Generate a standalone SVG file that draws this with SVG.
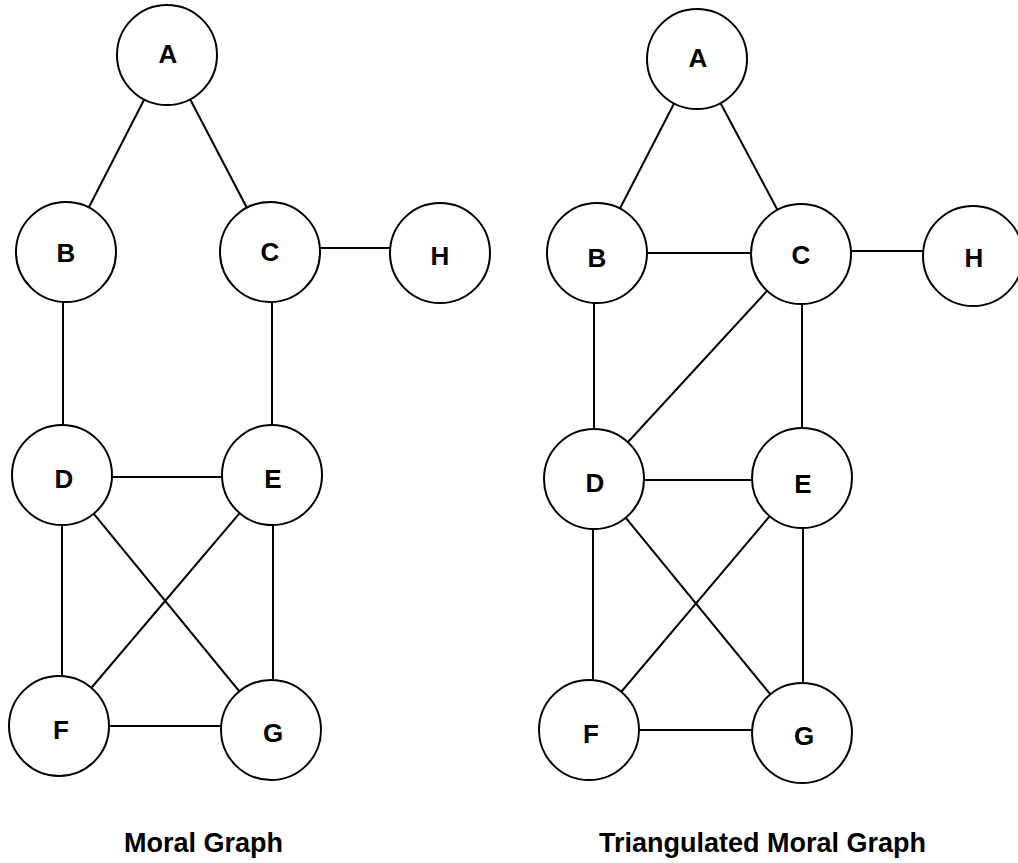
<svg xmlns="http://www.w3.org/2000/svg" width="1018" height="863" viewBox="0 0 1018 863">
  <style>
    .edge { stroke: #000; stroke-width: 2; fill: none; }
    .node circle { fill: #fff; stroke: #000; stroke-width: 2; }
    .node text { font-family: "Liberation Sans", Arial, sans-serif; font-weight: bold; font-size: 26px; text-anchor: middle; fill: #000; }
    .caption { font-family: "Liberation Sans", Arial, sans-serif; font-weight: bold; font-size: 27px; fill: #000; }
  </style>
  <rect width="1018" height="863" fill="#fff"/>

  <!-- Left: moral graph edges -->
  <g id="moral-edges">
    <line class="edge" x1="167" y1="55" x2="66" y2="252"/>
    <line class="edge" x1="167" y1="55" x2="270" y2="252"/>
    <line class="edge" x1="270" y1="248" x2="440" y2="248"/>
    <line class="edge" x1="63" y1="252" x2="63" y2="475"/>
    <line class="edge" x1="272" y1="252" x2="272" y2="475"/>
    <line class="edge" x1="62" y1="477" x2="272" y2="477"/>
    <line class="edge" x1="62" y1="475" x2="62" y2="726"/>
    <line class="edge" x1="273" y1="475" x2="273" y2="730"/>
    <line class="edge" x1="62" y1="475" x2="271" y2="730"/>
    <line class="edge" x1="272" y1="475" x2="59" y2="726"/>
    <line class="edge" x1="59" y1="726" x2="271" y2="726"/>
  </g>

  <!-- Right: triangulated moral graph edges -->
  <g id="triangulated-edges">
    <line class="edge" x1="697" y1="59" x2="597" y2="253"/>
    <line class="edge" x1="697" y1="59" x2="801" y2="254"/>
    <line class="edge" x1="597" y1="253" x2="801" y2="253"/>
    <line class="edge" x1="801" y1="251" x2="973" y2="251"/>
    <line class="edge" x1="594" y1="253" x2="594" y2="479"/>
    <line class="edge" x1="802" y1="254" x2="802" y2="478"/>
    <line class="edge" x1="801" y1="254" x2="594" y2="479"/>
    <line class="edge" x1="594" y1="480" x2="802" y2="480"/>
    <line class="edge" x1="593" y1="479" x2="593" y2="730"/>
    <line class="edge" x1="803" y1="478" x2="803" y2="733"/>
    <line class="edge" x1="594" y1="479" x2="802" y2="733"/>
    <line class="edge" x1="802" y1="478" x2="589" y2="730"/>
    <line class="edge" x1="589" y1="730" x2="802" y2="730"/>
  </g>

  <!-- Left graph nodes -->
  <g id="m-A" class="node"><circle cx="167" cy="55" r="50"/><text x="168" y="63">A</text></g>
  <g id="m-B" class="node"><circle cx="66" cy="252" r="50"/><text x="66" y="262">B</text></g>
  <g id="m-C" class="node"><circle cx="270" cy="252" r="50"/><text x="270" y="261">C</text></g>
  <g id="m-H" class="node"><circle cx="440" cy="253" r="50"/><text x="440" y="265">H</text></g>
  <g id="m-D" class="node"><circle cx="62" cy="475" r="50"/><text x="64" y="488">D</text></g>
  <g id="m-E" class="node"><circle cx="272" cy="475" r="50"/><text x="273" y="488">E</text></g>
  <g id="m-F" class="node"><circle cx="59" cy="726" r="50"/><text x="61" y="739">F</text></g>
  <g id="m-G" class="node"><circle cx="271" cy="730" r="50"/><text x="273" y="742">G</text></g>

  <!-- Right graph nodes -->
  <g id="t-A" class="node"><circle cx="697" cy="59" r="50"/><text x="698" y="67">A</text></g>
  <g id="t-B" class="node"><circle cx="597" cy="253" r="50"/><text x="597" y="267">B</text></g>
  <g id="t-C" class="node"><circle cx="801" cy="254" r="50"/><text x="801" y="264">C</text></g>
  <g id="t-H" class="node"><circle cx="973" cy="256" r="50"/><text x="974" y="267">H</text></g>
  <g id="t-D" class="node"><circle cx="594" cy="479" r="50"/><text x="595" y="492">D</text></g>
  <g id="t-E" class="node"><circle cx="802" cy="478" r="50"/><text x="803" y="493">E</text></g>
  <g id="t-F" class="node"><circle cx="589" cy="730" r="50"/><text x="591" y="743">F</text></g>
  <g id="t-G" class="node"><circle cx="802" cy="733" r="50"/><text x="804" y="745">G</text></g>

  <!-- Captions -->
  <text class="caption" x="124" y="852">Moral Graph</text>
  <text class="caption" x="599" y="852">Triangulated Moral Graph</text>
</svg>
